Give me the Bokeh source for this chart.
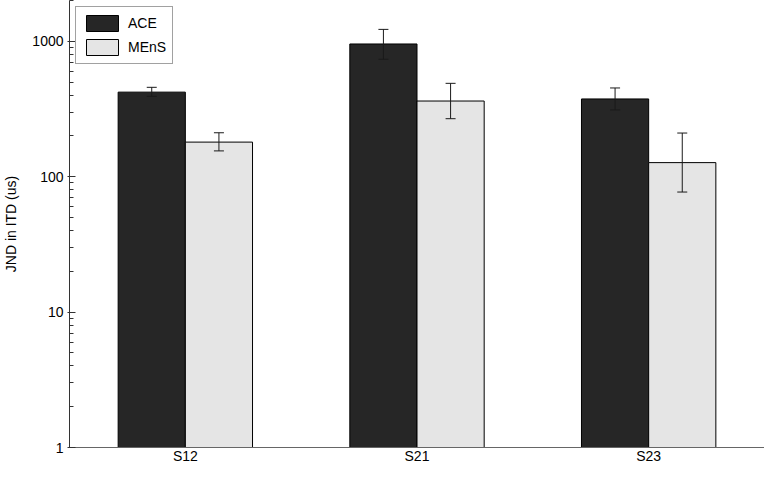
from bokeh.plotting import figure
from bokeh.models import ColumnDataSource, FactorRange, Range1d, FixedTicker, Legend, LegendItem
from bokeh.transform import dodge
from bokeh.embed import file_html
from bokeh.resources import INLINE

subjects = ["S12", "S21", "S23"]
ace_mean = [421, 955, 375]
ace_upper = [457, 1224, 452]
ace_lower = [392, 736, 311]
mens_mean = [180, 362, 127]
mens_upper = [211, 489, 210]
mens_lower = [155, 268, 77]
major_ticks = [1, 10, 100, 1000]
minor_ticks = [m * d for d in (1, 10, 100, 1000) for m in range(2, 10)]

FONT = "Liberation Sans"

src = ColumnDataSource(dict(
    subj=subjects,
    ace=ace_mean, ace_up=ace_upper, ace_lo=ace_lower,
    mens=mens_mean, mens_up=mens_upper, mens_lo=mens_lower,
    base=[1, 1, 1],
))

p = figure(width=764, height=466, output_backend="svg", toolbar_location=None,
           x_range=FactorRange(*subjects, range_padding=0), y_axis_type="log",
           y_range=Range1d(1, 2000),
           min_border_left=0, min_border_right=0, min_border_top=0, min_border_bottom=0)
p.outline_line_color = None
p.grid.visible = False
p.background_fill_color = "white"

w = 0.29
off = 0.145
r_ace = p.vbar(x=dodge("subj", -off, range=p.x_range), top="ace", bottom="base", width=w,
               source=src, fill_color="#262626", line_color="black", line_width=1)
r_mens = p.vbar(x=dodge("subj", off, range=p.x_range), top="mens", bottom="base", width=w,
                source=src, fill_color="#e5e5e5", line_color="black", line_width=1)

for o, up, lo in ((-off, "ace_up", "ace_lo"), (off, "mens_up", "mens_lo")):
    xs = dodge("subj", o, range=p.x_range)
    p.segment(x0=xs, x1=xs, y0=lo, y1=up, source=src, line_color="#1a1a1a", line_width=1)
    p.scatter(x=xs, y=up, marker="dash", size=10, source=src, line_color="#1a1a1a", line_width=1)
    p.scatter(x=xs, y=lo, marker="dash", size=10, source=src, line_color="#1a1a1a", line_width=1)

ya = p.yaxis[0]
ya.ticker = FixedTicker(ticks=major_ticks, minor_ticks=minor_ticks)
ya.major_label_overrides = {t: str(t) for t in major_ticks}
ya.axis_label = "JND in ITD (us)"
ya.axis_label_text_font = FONT
ya.axis_label_text_font_size = "14px"
ya.axis_label_text_font_style = "normal"
ya.axis_label_text_color = "black"
ya.axis_label_standoff = 10
ya.major_label_text_font = FONT
ya.major_label_text_font_size = "14px"
ya.major_label_text_color = "black"
ya.major_label_standoff = 4
ya.major_tick_in = 6
ya.major_tick_out = 2
ya.minor_tick_in = 4
ya.minor_tick_out = 0
ya.axis_line_color = "#333333"
ya.major_tick_line_color = "#333333"
ya.minor_tick_line_color = "#333333"

xa = p.xaxis[0]
xa.major_tick_line_color = None
xa.minor_tick_line_color = None
xa.major_tick_in = 0
xa.major_tick_out = 0
xa.minor_tick_in = 0
xa.minor_tick_out = 0
xa.axis_label_standoff = 0
xa.major_label_text_font = FONT
xa.major_label_text_font_size = "14px"
xa.major_label_text_color = "black"
xa.major_label_standoff = 0
xa.axis_line_color = "#666666"

legend = Legend(items=[LegendItem(label="ACE", renderers=[r_ace]),
                       LegendItem(label="MEnS", renderers=[r_mens])],
                location="top_left")
legend.label_text_font = FONT
legend.label_text_font_size = "14px"
legend.label_text_color = "black"
legend.glyph_width = 40
legend.glyph_height = 20
legend.spacing = 4
legend.padding = 6
legend.margin = 6
legend.label_standoff = 6
legend.label_height = 20
legend.border_line_color = "#444444"
legend.border_line_width = 1
legend.background_fill_alpha = 1
p.add_layout(legend)

open("out.html", "w").write(file_html(p, INLINE))
